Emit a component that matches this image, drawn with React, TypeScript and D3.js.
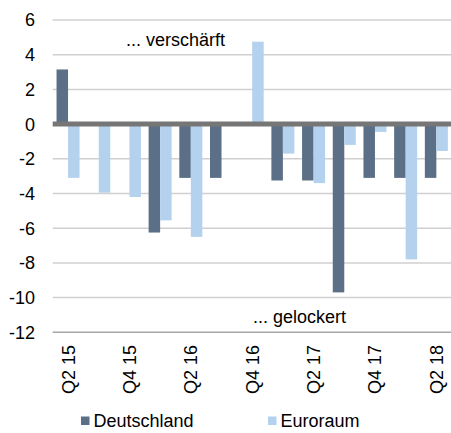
import React from "react";
import * as d3 from "d3";

const quarters = ["Q2 15","Q3 15","Q4 15","Q1 16","Q2 16","Q3 16","Q4 16","Q1 17","Q2 17","Q3 17","Q4 17","Q1 18","Q2 18"];
const deutschland = [3.15, 0, 0, -6.25, -3.1, -3.1, 0, -3.25, -3.25, -9.7, -3.1, -3.1, -3.1];
const euroraum = [-3.1, -3.95, -4.2, -5.55, -6.5, 0, 4.75, -1.7, -3.4, -1.2, -0.45, -7.8, -1.55];
const yTicks = [6, 4, 2, 0, -2, -4, -6, -8, -10, -12];
const seriesNames = ["Deutschland", "Euroraum"];
const colors = ["#5b7087", "#b4d2ee"];

const W = 451, H = 433;
const left = 52.7, right = 451.7, top = 20, bottom = 332.3;
const font = "'Liberation Sans', Arial, sans-serif";
const fs = 18;

export default function App() {
  const x = d3.scaleBand<string>().domain(quarters).range([left, right]).paddingInner(0.25).paddingOuter(0.125);
  const x1 = d3.scaleBand<string>().domain(seriesNames).range([0, x.bandwidth()]);
  const y = d3.scaleLinear().domain([-12, 6]).range([bottom, top]);
  const series = [deutschland, euroraum];
  return (
    <svg width={W} height={H} style={{ position: "absolute", left: 0, top: 0, background: "#fff" }} fontFamily={font}>
      {yTicks.map((t) => (
        <g key={t}>
          {t !== 0 && (
            <line x1={left} x2={W} y1={y(t)} y2={y(t)} stroke={t === -12 ? "#a6a6a6" : "#d0d0d0"} strokeWidth={1.5} />
          )}
          <text x={35} y={y(t)} dy="0.36em" textAnchor="end" fontSize={fs} fill="#000">{t}</text>
        </g>
      ))}
      {series.map((vals, si) =>
        vals.map((v, i) =>
          v === 0 ? null : (
            <rect
              key={si + "-" + i}
              x={(x(quarters[i]) as number) + (x1(seriesNames[si]) as number)}
              width={x1.bandwidth()}
              y={Math.min(y(v), y(0))}
              height={Math.abs(y(v) - y(0))}
              fill={colors[si]}
            />
          )
        )
      )}
      <line x1={left} x2={W} y1={y(0)} y2={y(0)} stroke="#767676" strokeWidth={5} />
      <text x={126} y={46} fontSize={fs} fill="#000">... verschärft</text>
      <text x={253} y={323} fontSize={fs} fill="#000">... gelockert</text>
      {quarters.map((q, i) =>
        i % 2 === 0 ? (
          <text
            key={q}
            transform={`translate(${(x(q) as number) + x.bandwidth() / 2},345) rotate(-90)`}
            textAnchor="end"
            dy="0.36em"
            fontSize={fs}
            fill="#000"
          >
            {q}
          </text>
        ) : null
      )}
      {seriesNames.map((n, i) => {
        const lx = i === 0 ? 81 : 268;
        return (
          <g key={n}>
            <rect x={lx} y={416.5} width={8.5} height={8.5} fill={colors[i]} />
            <text x={lx + 12.5} y={427} fontSize={fs} fill="#000">{n}</text>
          </g>
        );
      })}
    </svg>
  );
}
